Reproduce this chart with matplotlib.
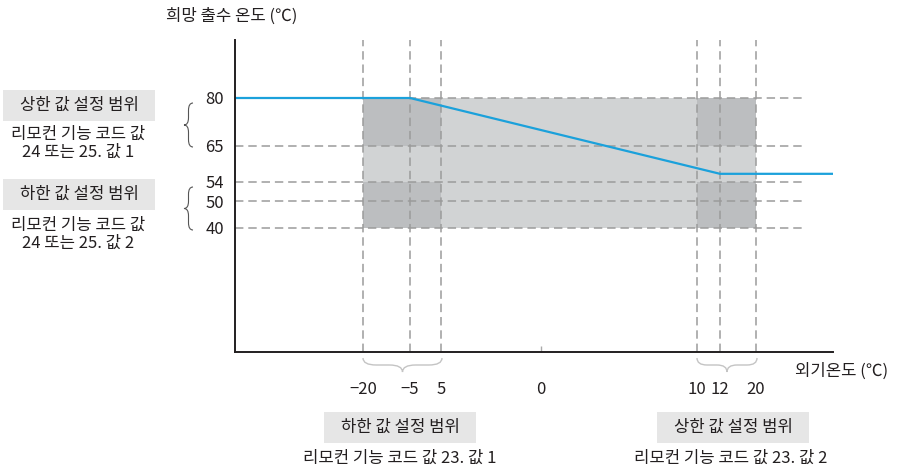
import numpy as np
import matplotlib
matplotlib.use('Agg')
import matplotlib.pyplot as plt
from matplotlib.patches import Rectangle, PathPatch
from matplotlib.path import Path
from matplotlib.transforms import Affine2D

plt.rcParams['font.family'] = ['Noto Sans CJK KR', 'DejaVu Sans']

# ---------------- data ----------------
y_ticks = [40, 50, 54, 65, 80]
x_ticks = [-20, -5, 5, 10, 12, 20]
x_tick_labels = ['\u221220', '\u22125', '5', '10', '12', '20']
zero_label = '0'
low_range_x = [-20, 5]      # 하한 값 설정 범위 (외기온도)
high_range_x = [10, 20]     # 상한 값 설정 범위 (외기온도)
upper_set_y = [65, 80]      # 상한 값 설정 범위 (출수 온도)
lower_set_y = [40, 54]      # 하한 값 설정 범위 (출수 온도)
curve_x = [-5, 12]
curve_y = [80, 56.5]

y_title = '희망 출수 온도 (\u2103)'
x_title = '외기온도 (\u2103)'
box_upper = '상한 값 설정 범위'
box_lower = '하한 값 설정 범위'
left_note1 = '리모컨 기능 코드 값\n24 또는 25. 값 1'
left_note2 = '리모컨 기능 코드 값\n24 또는 25. 값 2'
bottom_note1 = '리모컨 기능 코드 값 23. 값 1'
bottom_note2 = '리모컨 기능 코드 값 23. 값 2'

# ---------------- layout ----------------
W, H = 899, 475
TXT = '#231f20'
DASH = '#9b9b9b'
LIGHT = '#d1d3d4'
DARK = '#bcbec0'
BOXC = '#e6e6e6'
BLUE = '#1ba1db'
FS = 12

fig = plt.figure(figsize=(W / 100, H / 100), dpi=100)
AX_L, AX_R, AX_T, AX_B = 235, 833, 40, 352
ax = fig.add_axes([AX_L / W, 1 - AX_B / H, (AX_R - AX_L) / W, (AX_B - AX_T) / H])

# schematic (piecewise-linear) scales
XA_V = [-60, -20, -5, 5, 10, 12, 20, 30, 37]
XA_P = [0, 128, 175, 206, 462, 485, 521, 567, 598]
YA_V = [0, 40, 50, 54, 65, 80, 98]
YA_P = [0, 124, 151, 170, 206, 254, 312]


def make_scale(v, p):
    v = np.asarray(v, float)
    p = np.asarray(p, float)

    def conv(x, a, b):
        x = np.asarray(x, float)
        y = np.interp(x, a, b)
        y = np.where(x < a[0], b[0] + (x - a[0]) * (b[1] - b[0]) / (a[1] - a[0]), y)
        y = np.where(x > a[-1], b[-1] + (x - a[-1]) * (b[-1] - b[-2]) / (a[-1] - a[-2]), y)
        return y

    return (lambda x: conv(x, v, p)), (lambda x: conv(x, p, v))


xf, xi = make_scale(XA_V, XA_P)
yf, yi = make_scale(YA_V, YA_P)
ax.set_xscale('function', functions=(xf, xi))
ax.set_yscale('function', functions=(yf, yi))
XMIN, XMAX = XA_V[0], XA_V[-1]
YMIN, YMAX = YA_V[0], YA_V[-1]
ax.set_xlim(XMIN, XMAX)
ax.set_ylim(YMIN, YMAX)
HLINE_END = 30

# shaded regions
ax.fill_between([low_range_x[0], high_range_x[1]], lower_set_y[0], upper_set_y[1],
                color=LIGHT, lw=0, zorder=1)
for xr in (low_range_x, high_range_x):
    for yr in (upper_set_y, lower_set_y):
        ax.fill_between(xr, yr[0], yr[1], color=DARK, lw=0, zorder=2)

# dashed guides
ls = (0, (5.5, 3.2))
for xv in x_ticks:
    ax.axvline(xv, color=DASH, lw=1.1, ls=ls, zorder=3)
ax.hlines(y_ticks, XMIN, HLINE_END, colors=DASH, lw=1.1, linestyles=[ls], zorder=3)

# curve
ax.plot([XMIN] + curve_x + [XMAX], [curve_y[0]] + curve_y + [curve_y[-1]],
        color=BLUE, lw=1.6, zorder=5, solid_capstyle='butt')

# axes styling
for s in ('top', 'right'):
    ax.spines[s].set_visible(False)
for s in ('left', 'bottom'):
    ax.spines[s].set_color(TXT)
    ax.spines[s].set_linewidth(1.4)
    ax.spines[s].set_zorder(6)
ax.set_yticks(y_ticks)
ax.set_yticklabels([str(v) for v in y_ticks])
ax.set_xticks(x_ticks)
ax.set_xticklabels(x_tick_labels)
x_zero = float(xi(306))
ax.set_xticks([x_zero], minor=True)
ax.set_xticklabels([zero_label], minor=True)
ax.tick_params(axis='y', length=0, pad=8, labelsize=12, labelcolor=TXT)
ax.tick_params(axis='x', which='major', length=0, pad=21, labelsize=12, labelcolor=TXT)
ax.tick_params(axis='x', which='minor', direction='in', length=4, width=1, color='#aaaaaa',
               pad=21, labelsize=12, labelcolor=TXT)
ax.patch.set_alpha(0)

# ---------------- annotations in pixel coords ----------------
T = Affine2D().scale(1 / W, -1 / H).translate(0, 1) + fig.transFigure


def ftext(x, y, s, **kw):
    kw.setdefault('ha', 'center')
    kw.setdefault('va', 'center')
    kw.setdefault('fontsize', FS)
    kw.setdefault('color', TXT)
    fig.text(x, y, s, transform=T, **kw)


def fbox(x0, y0, x1, y1):
    fig.add_artist(Rectangle((x0, y0), x1 - x0, y1 - y0, transform=T,
                             facecolor=BOXC, edgecolor='none'))


def brace(s0, s1, base, d, vertical, color, lw):
    sm = (s0 + s1) / 2
    h = d / 2
    r = min(abs(d), (s1 - s0) / 6)
    pts = [(s0, 0), (s0, h), (s0 + r, h), (sm - r, h), (sm, h), (sm, d),
           (sm, h), (sm + r, h), (s1 - r, h), (s1, h), (s1, 0)]
    codes = [Path.MOVETO, Path.CURVE3, Path.CURVE3, Path.LINETO, Path.CURVE3, Path.CURVE3,
             Path.CURVE3, Path.CURVE3, Path.LINETO, Path.CURVE3, Path.CURVE3]
    if vertical:
        verts = [(base + t, s) for s, t in pts]
    else:
        verts = [(s, base + t) for s, t in pts]
    fig.add_artist(PathPatch(Path(verts, codes), transform=T, facecolor='none',
                             edgecolor=color, lw=lw))


ftext(232, 16, y_title)
ftext(795, 371, x_title, ha='left')

fbox(3, 90, 155, 121)
ftext(79, 105, box_upper)
ftext(78, 143.5, left_note1, linespacing=1.1)
fbox(3, 179, 155, 210)
ftext(79, 194, box_lower)
ftext(78, 234, left_note2, linespacing=1.1)

fbox(324, 412, 476, 443)
ftext(400, 427, box_lower)
ftext(400, 458, bottom_note1)
fbox(657, 412, 809, 443)
ftext(733, 427, box_upper)
ftext(731, 458, bottom_note2)

brace(103, 147, 193, -9, True, '#555555', 0.8)
brace(187, 230, 193, -9, True, '#555555', 0.8)
brace(363, 442, 358, 14, False, '#c4c4c4', 1.0)
brace(697, 757, 358, 14, False, '#c4c4c4', 1.0)

fig.savefig('out.png', dpi=100)
